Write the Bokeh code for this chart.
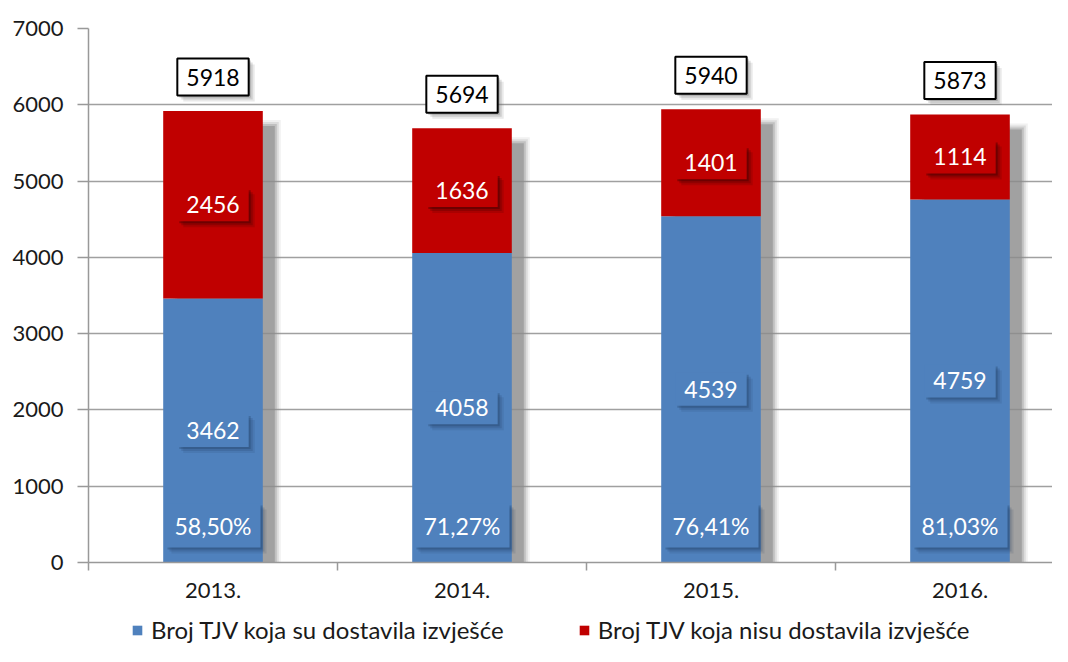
from bokeh.plotting import figure
from bokeh.layouts import column
from bokeh.models import Range1d, FixedTicker, Legend, LegendItem, ColumnDataSource
from bokeh.core.properties import value
from bokeh.embed import file_html
from bokeh.resources import INLINE

years = ["2013.", "2014.", "2015.", "2016."]
submitted = [3462, 4058, 4539, 4759]
not_submitted = [2456, 1636, 1401, 1114]
totals = [5918, 5694, 5940, 5873]
percents = ["58,50%", "71,27%", "76,41%", "81,03%"]
y_ticks = [0, 1000, 2000, 3000, 4000, 5000, 6000, 7000]
series_names = ["Broj TJV koja su dostavila izvješće", "Broj TJV koja nisu dostavila izvješće"]

BLUE = "#4F81BD"
RED = "#C00000"
FONT = "Lato"

xs = list(range(len(years)))
W, H = 1052, 604
LEG_H = 42
ML, MR, MT = 88, 0, 28
frame_h = 534
MB = H - MT - frame_h
frame_w = W - ML - MR
x_end = -0.5 + frame_w / 249.0
px_x = (x_end + 0.5) / frame_w          # data units per px (x)
px_y = 7000.0 / frame_h                  # data units per px (y)

p = figure(width=W, height=H, output_backend="svg", toolbar_location=None,
           x_range=Range1d(-0.5, x_end), y_range=Range1d(0, 7000),
           min_border_left=ML, min_border_right=MR, min_border_top=MT, min_border_bottom=MB)
p.outline_line_color = None
p.background_fill_color = "white"
p.border_fill_color = "white"

# axes
p.xaxis.ticker = FixedTicker(ticks=xs, minor_ticks=[i - 0.5 for i in xs] + [len(xs) - 0.5])
p.xaxis.major_label_overrides = {i: years[i] for i in xs}
p.xaxis.major_tick_line_color = None
p.xaxis.major_tick_out = 0
p.xaxis.major_tick_in = 0
p.xaxis.minor_tick_out = 8
p.xaxis.minor_tick_in = 0
p.xaxis.minor_tick_line_color = "#999999"
p.xaxis.minor_tick_line_width = 1.5
p.xaxis.axis_line_color = "#999999"
p.xaxis.axis_line_width = 1.5
p.xaxis.major_label_standoff = 12
p.xaxis.major_label_text_font = FONT
p.xaxis.major_label_text_font_size = "22px"
p.xaxis.major_label_text_color = "#1a1a1a"

p.yaxis.ticker = FixedTicker(ticks=y_ticks)
p.yaxis.minor_tick_line_color = None
p.yaxis.major_tick_out = 11
p.yaxis.major_tick_in = 0
p.yaxis.major_tick_line_color = "#999999"
p.yaxis.major_tick_line_width = 1.5
p.yaxis.axis_line_color = "#999999"
p.yaxis.axis_line_width = 1.5
p.yaxis.major_label_standoff = 14
p.yaxis.major_label_text_font = FONT
p.yaxis.major_label_text_font_size = "22px"
p.yaxis.major_label_text_color = "#1a1a1a"

p.xgrid.grid_line_color = None
p.ygrid.ticker = FixedTicker(ticks=y_ticks[1:])
p.ygrid.grid_line_color = "#a0a0a0"
p.ygrid.grid_line_width = 1.5

# bar shadows (soft, layered)
bw = 0.4
sh_dx = 13 * px_x
sh_dy = 14 * px_y
for grow, alpha in [(10, 0.12), (6, 0.2), (2, 0.35), (-2, 0.6)]:
    p.vbar(x=[x + sh_dx for x in xs], width=bw + grow * px_x,
           top=[t - sh_dy + grow / 2 * px_y for t in totals], bottom=0,
           fill_color="#8c8c8c", fill_alpha=alpha, line_color=None)

src = ColumnDataSource(dict(x=xs, sub=submitted, nsub=not_submitted, tot=totals,
                            sub_mid=[s / 2 for s in submitted],
                            nsub_mid=[s + n / 2 for s, n in zip(submitted, not_submitted)],
                            sub_lbl=[str(v) for v in submitted],
                            nsub_lbl=[str(v) for v in not_submitted],
                            tot_lbl=[str(v) for v in totals],
                            pct=percents, zero=[0] * len(xs)))

p.vbar(x="x", width=bw, top="sub", bottom=0, fill_color=BLUE, line_color=None, source=src)
p.vbar(x="x", width=bw, top="tot", bottom="sub", fill_color=RED, line_color=None, source=src)


def boxed(ycol, txt, color, shadow, text_color="white", y_off=0, border=None, sh_alpha=0.3,
          pad=(9, 9, 8, 8)):
    for off, a in [(6, sh_alpha * 0.4), (4, sh_alpha * 0.6), (2, sh_alpha)]:
        p.text(x="x", y=ycol, text=txt, source=src, text_font=value(FONT), text_font_size="23px",
               text_align="center", text_baseline="middle", text_alpha=0,
               background_fill_color=shadow, background_fill_alpha=a, padding=pad,
               x_offset=off, y_offset=y_off + off)
    kw = {}
    if border:
        kw = dict(border_line_color=border, border_line_width=2)
    p.text(x="x", y=ycol, text=txt, source=src, text_font=value(FONT), text_font_size="23px",
           text_align="center", text_baseline="middle", text_color=text_color,
           background_fill_color=color, padding=pad, y_offset=y_off, **kw)


boxed("sub_mid", "sub_lbl", BLUE, "#1f3a5c")
boxed("nsub_mid", "nsub_lbl", RED, "#3a0000", sh_alpha=0.4)
boxed("zero", "pct", BLUE, "#1f3a5c", y_off=-37)
boxed("tot", "tot_lbl", "white", "#666666", text_color="black", y_off=-34, border="black",
      sh_alpha=0.35, pad=(9, 9, 10, 10))

# legend strip (its frame is aligned with the main frame by the column layout)
lg = figure(width=W, height=LEG_H, output_backend="svg", toolbar_location=None,
            x_range=Range1d(0, 10), y_range=Range1d(0, 10),
            min_border=0, x_axis_location=None, y_axis_location=None)
lg.outline_line_color = None
lg.grid.grid_line_color = None
r1 = lg.rect(x=[-100], y=[-100], width=1, height=1, fill_color=BLUE, line_color=None)
r2 = lg.rect(x=[-100], y=[-100], width=1, height=1, fill_color=RED, line_color=None)
legend = Legend(items=[LegendItem(label=series_names[0], renderers=[r1]),
                       LegendItem(label=series_names[1], renderers=[r2])],
                orientation="horizontal", location=(43, 2),
                label_text_font=FONT, label_text_font_size="24px", label_text_color="#1a1a1a",
                glyph_width=12, glyph_height=12, label_standoff=8, spacing=74,
                border_line_color=None, background_fill_alpha=0, padding=0, margin=0)
lg.add_layout(legend)

layout = column(p, lg, spacing=0)
open("out.html", "w").write(file_html(layout, INLINE))
